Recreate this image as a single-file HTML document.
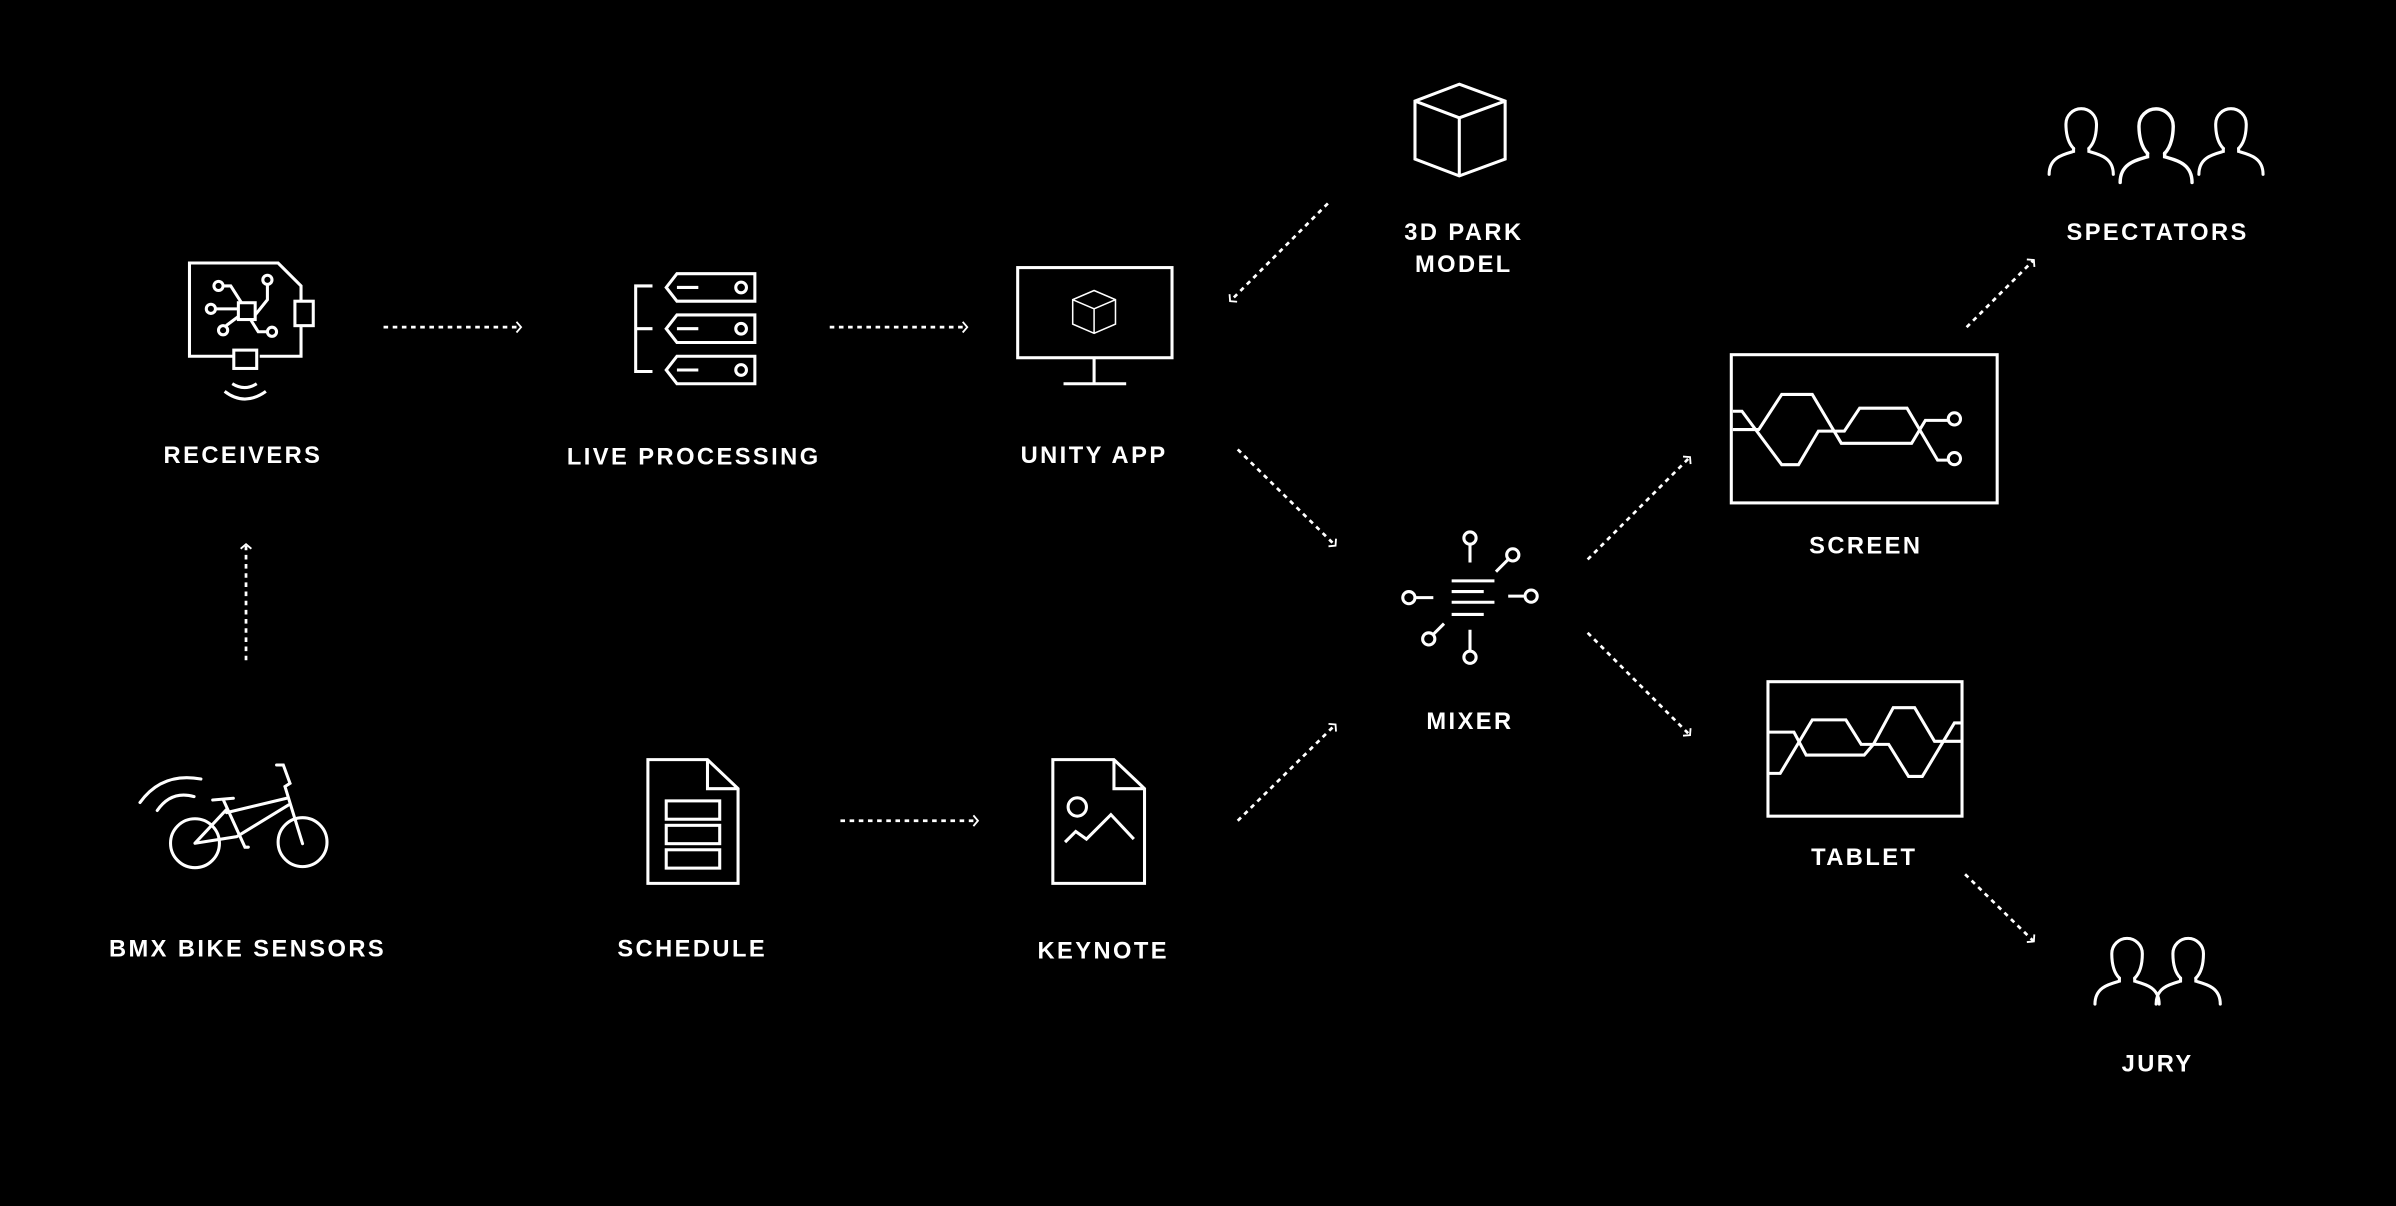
<!DOCTYPE html>
<html><head><meta charset="utf-8"><style>
html,body{margin:0;padding:0;background:#000;}
svg{display:block}
text{font-family:"Liberation Sans",sans-serif;font-weight:bold;font-size:15.5px;letter-spacing:1.6px;fill:#fff;text-anchor:middle}
</style></head><body>
<svg width="2396" height="1206" viewBox="0 0 1568 789" xmlns="http://www.w3.org/2000/svg">
<rect width="1568" height="789" fill="#000"/>
<defs>
<marker id="ah" markerWidth="10" markerHeight="10" refX="5" refY="5" orient="auto" markerUnits="userSpaceOnUse">
<polyline points="2,1.5 5,5 2,8.5" fill="none" stroke="#fff" stroke-width="1.2"/>
</marker>
<g id="person" fill="none" stroke="#fff" stroke-width="2" stroke-linecap="round">
<path d="M-5,27 C-9,23 -10,16 -10,11 A10,10 0 0 1 10,11 C10,16 9,23 5,27"/>
<path d="M-5,27 V29 C-12,31 -21,33 -21,44"/>
<path d="M5,27 V29 C12,31 21,33 21,44"/>
</g>
</defs>
<g fill="none" stroke="#fff" stroke-width="1.8" stroke-dasharray="3,3" marker-end="url(#ah)">
<line x1="251" y1="214" x2="341" y2="214"/>
<line x1="543" y1="214" x2="633" y2="214"/>
<line x1="161" y1="432" x2="161" y2="356"/>
<line x1="550" y1="537" x2="640" y2="537"/>
<line x1="869" y1="133" x2="805" y2="197"/>
<line x1="810" y1="294" x2="874" y2="357"/>
<line x1="810" y1="537" x2="874" y2="474"/>
<line x1="1039" y1="366" x2="1106" y2="299"/>
<line x1="1039" y1="414" x2="1106" y2="481"/>
<line x1="1287" y1="214" x2="1331" y2="170"/>
<line x1="1286" y1="572" x2="1331" y2="616"/>
</g>
<g fill="none" stroke="#fff" stroke-width="2" stroke-linejoin="miter">
<path d="M170,233 H197 V213 M197,197 V187 L182,172 H124 V233 H153"/>
<rect x="193" y="197" width="12" height="16"/>
<rect x="153" y="229" width="15" height="12"/>
<rect x="156" y="198" width="11" height="11"/>
<circle cx="143" cy="187" r="3"/><circle cx="175" cy="183" r="3"/><circle cx="138" cy="202" r="3"/><circle cx="146" cy="216" r="3"/><circle cx="178" cy="217" r="3"/>
<path d="M146,187 H151 L158,198 M175,186 V196 L167,206 M141,202 H156 M148,213 L156,207 M175,217 H169 L164,209"/>
<path d="M152,251 Q160,256 168,251 M147,256 Q160,266 174,256"/>
<path d="M427,187 H416 V243 H427 M416,215 H427"/>
<path d="M443,179 H494 V197 H443 L436,188 Z M443,188 H457"/><circle cx="485" cy="188" r="3.5"/>
<path d="M443,206 H494 V224 H443 L436,215 Z M443,215 H457"/><circle cx="485" cy="215" r="3.5"/>
<path d="M443,233 H494 V251 H443 L436,242 Z M443,242 H457"/><circle cx="485" cy="242" r="3.5"/>
<rect x="666" y="175" width="101" height="59"/>
<path d="M716,234 V251 M696,251 H737"/>
<path d="M716,190 L730,196 V212 L716,218 L702,212 V196 Z M702,196 L716,202 L730,196 M716,202 V218" stroke-width="1"/>
<path d="M955,55 L985,66 V104 L955,115 L926,104 V66 Z M926,66 L955,77 L985,66 M955,77 V115"/>
<path d="M950,380 H978 M950,387 H971 M950,394 H978 M950,402 H971"/>
<circle cx="962" cy="352" r="4"/><path d="M962,356 V368"/>
<circle cx="990" cy="363" r="4"/><path d="M987,366 L979,374"/>
<circle cx="922" cy="391" r="4"/><path d="M926,391 H938"/>
<circle cx="1002" cy="390" r="4"/><path d="M998,390 H987"/>
<circle cx="935" cy="418" r="4"/><path d="M938,415 L945,408"/>
<circle cx="962" cy="430" r="4"/><path d="M962,426 V412"/>
<rect x="1133" y="232" width="174" height="97"/>
<path d="M1134,269 H1140 L1166,304 H1177 L1190,282 H1207 L1217,267 H1248 L1268,301 H1275"/>
<path d="M1134,281 H1151 L1166,258 H1186 L1205,290 H1251 L1260,275 H1275"/>
<circle cx="1279" cy="274" r="4"/><circle cx="1279" cy="300" r="4"/>
<rect x="1157" y="446" width="127" height="88"/>
<path d="M1158,479 H1174 L1182,494 H1220 L1226,487 H1236 L1249,508 H1258 L1279,473 H1283"/>
<path d="M1158,506 H1165 L1186,471 H1208 L1218,487 H1226 L1239,463 H1253 L1266,485 H1283"/>
<circle cx="127.6" cy="551.7" r="16"/>
<circle cx="198" cy="551" r="16"/>
<path d="M127.6,551.7 L154.9,547.4 L188.7,526.7 M127.6,551.7 L147.9,530 M146.2,523.4 L160.3,554.3 H162.5 M139.2,523.4 L152.7,522.3 M148.3,531.7 L187.6,522.3 M198,552 L186.5,514.6 L189.8,512.5 L185.4,500.5 H181" stroke-linecap="round"/>
<path d="M91.6,525.1 Q106,505 131.5,509.7 M102.9,530.3 Q112,517 127,521.2" stroke-linecap="round"/>
<path d="M424,497 H463 L483,516 V578 H424 Z M463,497 V516 H483"/>
<rect x="436" y="524" width="35" height="12"/><rect x="436" y="540" width="35" height="12"/><rect x="436" y="556" width="35" height="12"/>
<path d="M689,497 H729 L749,516 V578 H689 Z M729,497 V516 H749"/>
<circle cx="705" cy="528" r="6"/>
<path d="M697,551 L704,544 L711,549 L727,533 L742,549"/>
</g>
<use href="#person" x="1362" y="70"/>
<use href="#person" x="1411" y="70" transform="translate(1411,70) scale(1.12) translate(-1411,-70)"/>
<use href="#person" x="1460" y="70"/>
<use href="#person" x="1392" y="613"/>
<use href="#person" x="1432" y="613"/>
<text x="159" y="303">RECEIVERS</text>
<text x="454" y="304">LIVE PROCESSING</text>
<text x="716" y="303">UNITY APP</text>
<text x="958" y="157">3D PARK</text>
<text x="958" y="178">MODEL</text>
<text x="1412" y="157">SPECTATORS</text>
<text x="1221" y="362">SCREEN</text>
<text x="962" y="477">MIXER</text>
<text x="1220" y="566">TABLET</text>
<text x="162" y="626">BMX BIKE SENSORS</text>
<text x="453" y="626">SCHEDULE</text>
<text x="722" y="627">KEYNOTE</text>
<text x="1412" y="701">JURY</text>
</svg>
</body></html>
